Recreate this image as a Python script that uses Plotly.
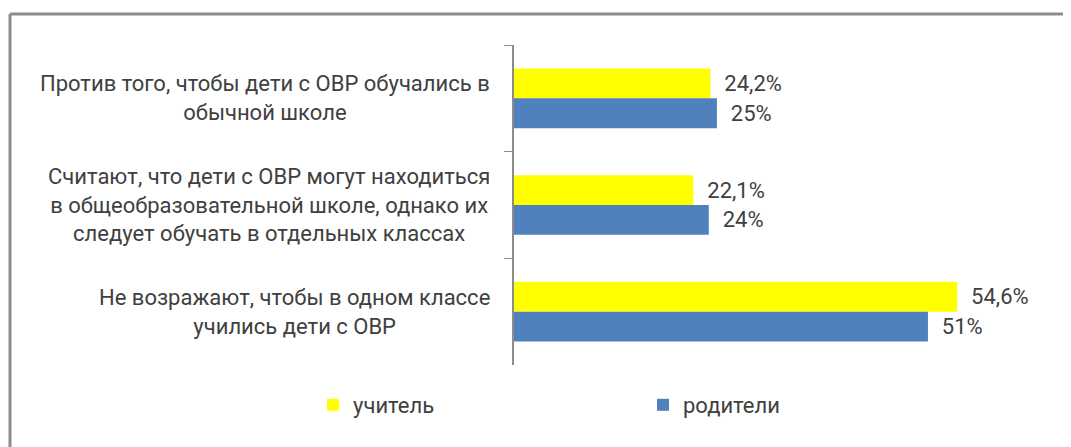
import plotly.graph_objects as go

categories = [
    "Против того, чтобы дети с ОВР обучались в<br>обычной школе",
    "Считают, что дети с ОВР могут находиться<br>в общеобразовательной школе, однако их<br>следует обучать в отдельных классах",
    "Не возражают, чтобы в одном классе<br>учились дети с ОВР",
]
teachers = [24.2, 22.1, 54.6]
parents = [25, 24, 51]
series_names = ["учитель", "родители"]
series_colors = ["#FFFF00", "#4F81BD"]

W, H = 1071, 447
OFF = 8  # page body margin
L, R, T, B = 514 - OFF, 70 + OFF, 45 - OFF, 82 + OFF
FONT = "Roboto, Noto Sans, sans-serif"
TXT = "#404040"


def pct(v):
    s = ("%g" % v).replace(".", ",")
    return "\u00a0\u00a0" + s + "%"


fig = go.Figure()
for name, vals, color in zip(series_names, [teachers, parents], series_colors):
    fig.add_trace(go.Bar(
        y=categories,
        x=vals,
        name=name,
        orientation="h",
        marker=dict(color=color, line=dict(width=0)),
        text=[pct(v) for v in vals],
        textposition="outside",
        textfont=dict(family=FONT, size=22, color=TXT),
        cliponaxis=False,
    ))

for cat in categories:
    fig.add_annotation(
        x=0, xref="paper", y=cat, yref="y",
        text=cat, showarrow=False,
        xanchor="right", align="center", xshift=-22,
        font=dict(family=FONT, size=22, color=TXT),
    )

pw = W - L - R
ph = H - T - B
px = lambda p: (p - OFF - L) / pw
py = lambda p: (H - B - (p - OFF)) / ph
frame = dict(color="#8c8c8c", width=3)
fig.add_shape(type="line", xref="paper", yref="paper",
              x0=px(10), x1=px(W + 20), y0=py(14), y1=py(14), line=frame)
fig.add_shape(type="line", xref="paper", yref="paper",
              x0=px(10), x1=px(10), y0=py(14), y1=py(H + 20), line=frame)

fig.update_layout(
    width=W, height=H,
    margin=dict(l=L, r=R, t=T, b=B),
    plot_bgcolor="white", paper_bgcolor="white",
    barmode="group", bargap=0.44, bargroupgap=0,
    showlegend=True,
    legend=dict(orientation="h", x=px(313), xanchor="left", y=py(405), yanchor="middle",
                entrywidth=285, font=dict(family=FONT, size=22, color=TXT),
                itemclick=False),
    xaxis=dict(range=[0, 60], visible=False),
    yaxis=dict(autorange="reversed", showticklabels=False, showline=True,
               linecolor="#8c8c8c", linewidth=1.5, ticks="outside", ticklen=8,
               tickcolor="#8c8c8c", tickson="boundaries", showgrid=False, zeroline=False),
)

fig.write_html("out.html")
